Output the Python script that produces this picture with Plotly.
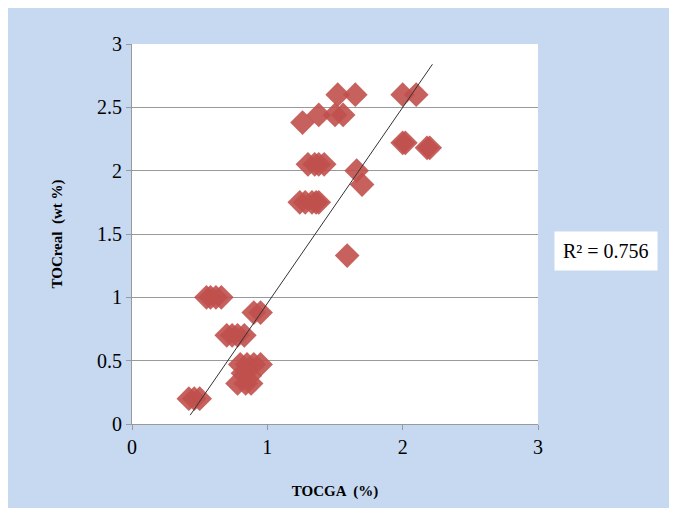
import plotly.graph_objects as go

x = [1.52,1.65,2.0,2.1, 1.38,1.5,1.56,1.26, 2.0,2.02,2.18,2.2, 1.3,1.35,1.38,1.42, 1.66,1.7,
     1.24,1.28,1.33,1.36,1.38, 1.59, 0.55,0.58,0.62,0.66, 0.9,0.95, 0.7,0.74,0.78,0.83,
     0.8,0.85,0.9,0.95, 0.82,0.87, 0.78,0.84,0.88, 0.42,0.46,0.5]
y = [2.6,2.6,2.6,2.6, 2.44,2.44,2.44,2.38, 2.22,2.22,2.18,2.18, 2.05,2.05,2.05,2.05, 2.0,1.89,
     1.75,1.75,1.75,1.75,1.75, 1.33, 1.0,1.0,1.0,1.0, 0.88,0.88, 0.7,0.7,0.7,0.7,
     0.47,0.47,0.47,0.47, 0.4,0.38, 0.32,0.32,0.32, 0.2,0.2,0.2]
trend_x = [0.43, 2.22]
trend_y = [0.07, 2.84]

fig = go.Figure()
fig.add_trace(go.Scatter(x=x, y=y, mode="markers",
    marker=dict(symbol="diamond", size=19, color="#c0504d", opacity=0.9, line=dict(width=0))))
fig.add_trace(go.Scatter(x=trend_x, y=trend_y, mode="lines", line=dict(color="#333", width=1)))
font = "Liberation Serif"
fig.update_layout(width=677, height=508, showlegend=False,
    paper_bgcolor="#c6d9f1", plot_bgcolor="white",
    margin=dict(l=124, r=147, t=36, b=92),
    font=dict(family=font, size=20, color="black"),
    xaxis=dict(range=[0,3], tickvals=[0,1,2,3], showgrid=False, zeroline=False,
               showline=True, linecolor="#999", ticks="outside", tickcolor="#999",
               title=dict(text="<b>TOCGA  (%)</b>", font=dict(size=15), standoff=28)),
    yaxis=dict(range=[0,3], tickvals=[0,0.5,1,1.5,2,2.5,3], ticktext=["0","0.5","1","1.5","2","2.5","3"],
               showgrid=True, gridcolor="#999", zeroline=False,
               showline=True, linecolor="#999", ticks="outside", tickcolor="#999",
               title=dict(text="<b>TOCreal  (wt %)</b>", font=dict(size=15), standoff=30)),
    annotations=[dict(text="R² = 0.756", xref="paper", yref="paper", x=1.04, y=0.455,
                      xanchor="left", showarrow=False, bgcolor="white",
                      font=dict(size=20), borderpad=8)])
fig.write_html("out.html")
